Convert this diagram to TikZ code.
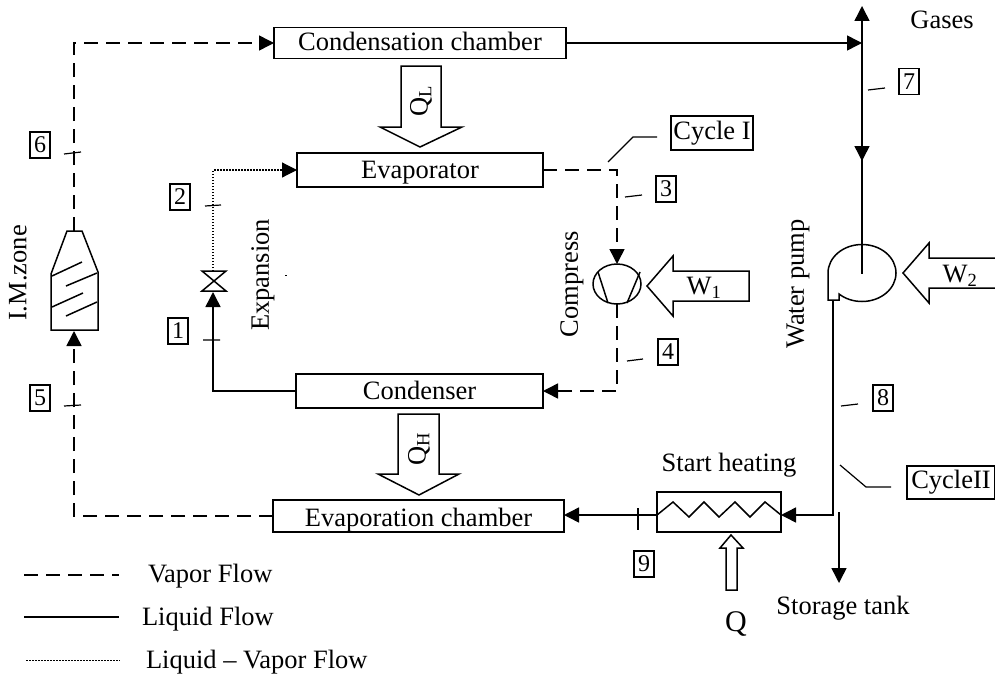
\documentclass[tikz,border=0pt]{standalone}
\usepackage{fontspec}
\setmainfont{Liberation Serif}
\usetikzlibrary{arrows.meta,shapes.geometric}
\tikzset{
  every node/.style={inner sep=0pt,outer sep=0pt,font=\fontsize{26.5}{28}\selectfont},
  ln/.style={line width=1.5pt},
  flow/.style={ln,-{Triangle[length=15pt,width=15pt]}},
  vap/.style={dash pattern=on 14pt off 8pt},
  dotf/.style={line width=1.2pt,dash pattern=on 1.5pt off 1.5pt},
  unit/.style={draw,ln,fill=white,anchor=center,text height=18pt,text depth=2pt},
  tag/.style={draw,line width=1.2pt,minimum width=20pt,minimum height=26pt,font=\fontsize{24}{26}\selectfont},
  tick/.style={line width=1.2pt},
  bigarrow/.style={draw,ln,fill=white},
}
\begin{document}
\begin{tikzpicture}[x=1pt,y=-1pt]
\useasboundingbox (0,0) rectangle (995,677);
% units
\node[unit,minimum width=292pt,minimum height=31pt] (cond) at (420,43) {Condensation chamber};
\node[unit,minimum width=246pt,minimum height=34pt] (evap) at (420,170) {Evaporator};
\node[unit,minimum width=247pt,minimum height=34pt] (cdr) at (419.5,391) {Condenser};
\node[unit,text height=22pt,minimum width=291pt,minimum height=32pt] (evch) at (418.5,516) {Evaporation chamber};
\node[unit,minimum width=124pt,minimum height=40pt] (heat) at (719,512) {};
\draw[ln] (657,515)--(673,502)--(689,517)--(704,502)--(719,517)--(735,502)--(750,517)--(765,502)--(781,515);
% I.M. zone
\coordinate (imtop) at (74,231);
\coordinate (imbot) at (74,331);
\draw[ln] (67,231)--(82,231)--(98,272)--(98,330)--(51,330)--(51,274)--cycle;
\draw[ln] (52,276)--(82,262) (66,286)--(97,273) (52,307)--(83,293) (66,316)--(97,302);
% valve
\coordinate (valvetop) at (213,271);
\coordinate (valvebot) at (213,292);
\draw[ln] (202,271)--(226,271)--(202,291)--(226,291)--cycle;
% compressor
\node[draw,ln,ellipse,minimum width=48pt,minimum height=40pt] (comp) at (617,284) {};
\draw[ln] (598,272)--(608,303) (640,272)--(627,303);
% pump
\coordinate (pumpc) at (862,274);
\coordinate (pumpout) at (833,300);
\draw[ln] (828,273) arc[start angle=180,end angle=492.5,x radius=34,y radius=28.5] -- (839,300)--(828,300)--cycle;
% flows
\coordinate (gt) at (862,6);
\coordinate (cj) at (862,43);
\draw[flow,vap] (imtop)--(74,43)--(cond.west);
\draw[flow] (cond.east)--(cj);
\draw[flow] (cj)--(gt);
\draw[flow] (cj)--(862,161);
\draw[ln] (862,155)--(pumpc);
\draw[flow,dotf] (valvetop)--(213,170)--(evap.west);
\draw[flow] (cdr.west)--(213,391)--(valvebot);
\draw[flow,vap] (evap.east)--(617,170)--(comp.north);
\draw[flow,vap] (comp.south)--(617,391)--(cdr.east);
\draw[flow,vap] (evch.west)--(74,516)--(imbot);
\draw[flow] (pumpout)--(833,515)--(781,515);
\draw[flow] (heat.west|-0,515)--(evch.east|-0,515);
\coordinate (st) at (839,583);
\draw[flow] (839,512)--(st);
% block arrows
\draw[bigarrow] (401,66)--(441,66)--(441,127)--(462,127)--(420,147)--(380,127)--(401,127)--cycle;
\node[rotate=90] at (421,101) {Q\textsubscript{L}};
\draw[bigarrow] (398,414)--(439,414)--(439,474)--(459,474)--(419,495)--(378,474)--(398,474)--cycle;
\node[rotate=90] at (419,449) {Q\textsubscript{H}};
\draw[bigarrow] (647,286)--(673,256)--(673,271)--(749,271)--(749,301)--(673,301)--(673,316)--cycle;
\node at (704,288) {W\textsubscript{1}};
\draw[ln,fill=white] (995,258)--(929,258)--(929,243)--(903,273)--(929,303)--(929,288)--(995,288);
\node at (960,276) {W\textsubscript{2}};
\draw[bigarrow] (731,535)--(743,548)--(737,548)--(737,590)--(726,590)--(726,548)--(720,548)--cycle;
% tags
\node[tag] (t1) at (178,331) {1};
\node[tag] (t2) at (180,197) {2};
\node[tag] (t3) at (666,189) {3};
\node[tag] (t4) at (668,352) {4};
\node[tag] (t5) at (40,398) {5};
\node[tag] (t6) at (40,145) {6};
\node[tag] (t7) at (909,81.5) {7};
\node[tag] (t8) at (883,398) {8};
\node[tag] (t9) at (644,564) {9};
% ticks
\draw[tick] (203,340)--(220,340) (205,206)--(221,205) (64,406)--(81,405) (64,154)--(81,152);
\draw[tick] (868,90)--(885,88) (841,406)--(858,404) (627,361)--(643,359) (625,197)--(642,195);
\draw[tick] (638,508)--(638,530);
\draw[tick] (285,275.5)--(287,275.5);
% cycle labels
\node[draw,line width=1.2pt,minimum width=82pt,minimum height=34pt] (c1) at (712,133) {Cycle I};
\draw[tick] (608,162)--(633,137)--(657,137);
\node[draw,line width=1.2pt,minimum width=88pt,minimum height=33pt] (c2) at (951,482.5) {CycleII};
\draw[tick] (840,465)--(866,487)--(891,487);
% texts
\node[rotate=90] (tim) at (18,273) {I.M.zone};
\node[rotate=90] (tex) at (263,275) {Expansion};
\node[rotate=90] (tco) at (572,284) {Compress};
\node[rotate=90] (twp) at (798,284) {Water pump};
\node (tg) at (942,20) {Gases};
\node (tsh) at (729,465) {Start heating};
\node (tst) at (843,608) {Storage tank};
\node[font=\fontsize{30}{32}\selectfont] (tq) at (736,624) {Q};
% legend
\coordinate (l1a) at (24,575); \coordinate (l1b) at (119,575);
\coordinate (l2a) at (24,617); \coordinate (l2b) at (119,617);
\coordinate (l3a) at (26,660); \coordinate (l3b) at (120,660);
\draw[ln,vap] (l1a)--(l1b);
\draw[ln] (l2a)--(l2b);
\draw[dotf,line width=.8pt] (l3a)--(l3b);
\node[anchor=west] (lv) at (148,576) {Vapor Flow};
\node[anchor=west] (ll) at (142,619) {Liquid Flow};
\node[anchor=west] (lm) at (146,662) {Liquid – Vapor Flow};
\end{tikzpicture}
\end{document}
